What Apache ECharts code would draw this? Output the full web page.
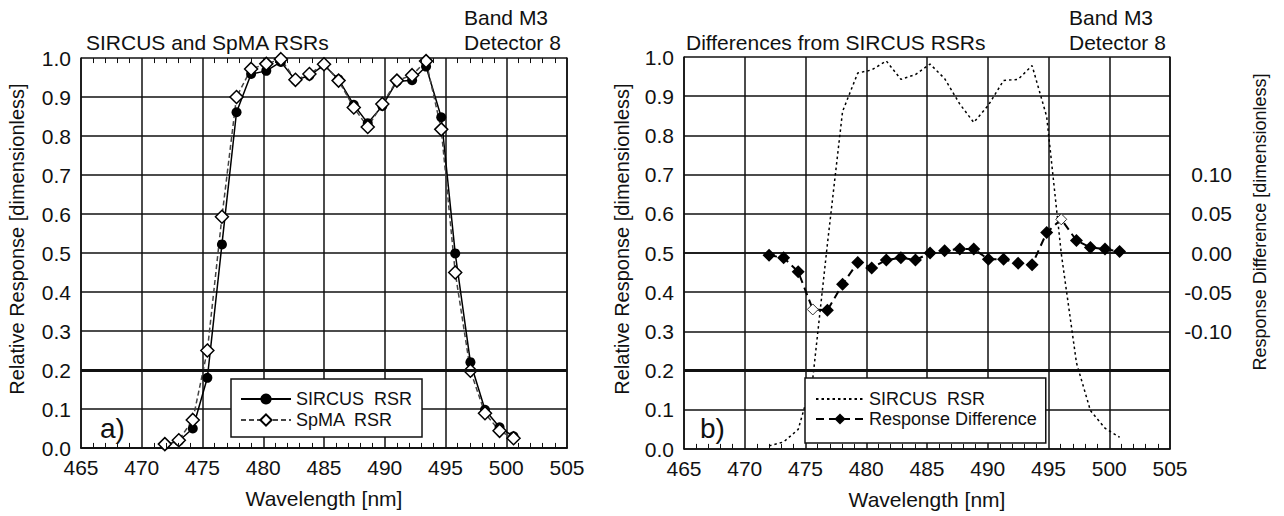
<!DOCTYPE html>
<html>
<head>
<meta charset="utf-8">
<script src="https://cdn.jsdelivr.net/npm/echarts@6/dist/echarts.min.js"></script>
<style>
    html, body { margin: 0; padding: 0; background: #fff; }
    #chart { width: 1284px; height: 516px; }
</style>
</head>
<body>
<div id="chart"></div>
<script>
// wavelength of the measured points, panel a) [nm]
const wavelengthA = [471.9, 473.05, 474.2, 475.4, 476.6, 477.8, 479.0, 480.25, 481.45, 482.65, 483.8, 485.0, 486.2,
    487.45, 488.6, 489.8, 491.0, 492.25, 493.4, 494.65, 495.8, 497.05, 498.25, 499.45, 500.6];
// same points as plotted in panel b) (sit a little to the right)
const wavelengthB = [472.0, 473.2, 474.4, 475.6, 476.8, 478.05, 479.3, 480.45, 481.65, 482.85, 484.05, 485.25, 486.45,
    487.7, 488.85, 490.05, 491.3, 492.5, 493.65, 494.85, 496.05, 497.3, 498.45, 499.65, 500.85];
const sircusRsr = [0.008, 0.018, 0.05, 0.18, 0.522, 0.861, 0.959, 0.967, 0.99, 0.943, 0.955, 0.982, 0.945,
    0.88, 0.833, 0.877, 0.94, 0.943, 0.978, 0.848, 0.499, 0.22, 0.098, 0.053, 0.03];
const spmaRsr = [0.01, 0.02, 0.072, 0.25, 0.593, 0.90, 0.972, 0.985, 0.997, 0.944, 0.959, 0.984, 0.942,
    0.873, 0.823, 0.882, 0.942, 0.956, 0.992, 0.817, 0.45, 0.198, 0.089, 0.044, 0.025];
const responseDiff = [-0.003, -0.006, -0.024, -0.072, -0.073, -0.040, -0.012, -0.019, -0.009, -0.006, -0.009, 0.0, 0.003,
    0.005, 0.005, -0.008, -0.008, -0.013, -0.015, 0.026, 0.043, 0.016, 0.007, 0.005, 0.002];
const hollowDiff = [3, 20]; // drawn as open diamonds
const xTicks = { min: 465, max: 505, step: 5, minor: 1 };
const yTicks = { min: 0, max: 1, step: 0.1 };
const diffTicks = { min: -0.25, max: 0.25, step: 0.05, shown: 0.1 };

const FONT = 'Liberation Sans, Arial, sans-serif';
const INK = '#111';
const TICK_LEN = 0.013; // small tick length in y units (about 5 px)

const pairs = (xs, ys) => xs.map((x, i) => [x, ys[i]]);

// 1 nm positions of the small ticks along the frame
const minorTickNm = [];
for (let v = xTicks.min + xTicks.minor; v < xTicks.max; v += xTicks.minor) {
    if (v % xTicks.step !== 0) minorTickNm.push(v);
}

// tick segments pointing into the plot from y = edge
const tickSegs = (edge, dir) => minorTickNm.map(v => [
    { coord: [v, edge], lineStyle: { width: 1, color: INK, type: 'solid' } },
    { coord: [v, edge + dir * TICK_LEN] },
]);

function bottomX(gridIndex) {
    return {
        gridIndex,
        type: 'value',
        position: 'bottom',
        min: xTicks.min,
        max: xTicks.max,
        interval: xTicks.step,
        axisLine: { lineStyle: { color: INK, width: 1.5 } },
        axisTick: { show: false },
        axisLabel: { color: INK, fontSize: 21, fontFamily: FONT, margin: 9 },
        splitLine: { show: true, lineStyle: { color: INK, width: 1.5 } },
        name: 'Wavelength [nm]',
        nameLocation: 'middle',
        nameGap: 40,
        nameTextStyle: { color: INK, fontSize: 21, fontFamily: FONT },
    };
}

function topX(gridIndex) {
    return {
        gridIndex,
        type: 'value',
        position: 'top',
        min: xTicks.min,
        max: xTicks.max,
        interval: xTicks.step,
        axisLine: { lineStyle: { color: INK, width: 1.5 } },
        axisTick: { show: false },
        axisLabel: { show: false },
        splitLine: { show: false },
    };
}

function leftY(gridIndex) {
    return {
        gridIndex,
        type: 'value',
        position: 'left',
        min: yTicks.min,
        max: yTicks.max,
        interval: yTicks.step,
        axisLine: { show: true, lineStyle: { color: INK, width: 1.5 } },
        axisTick: { show: false },
        axisLabel: { color: INK, fontSize: 21, fontFamily: FONT, margin: 10, formatter: v => v.toFixed(1) },
        splitLine: { show: true, lineStyle: { color: INK, width: 1.5 } },
    };
}

const markLineBase = {
    silent: true,
    symbol: 'none',
    label: { show: false },
    lineStyle: { color: INK, width: 3, type: 'solid' },
};

const textEl = (text, x, y, size, rotated) => ({
    type: 'text',
    x,
    y,
    rotation: rotated ? Math.PI / 2 : 0,
    style: {
        text,
        fill: INK,
        font: size + 'px ' + FONT,
        textAlign: rotated ? 'center' : 'left',
        textVerticalAlign: 'middle',
    },
});

const chart = echarts.init(document.getElementById('chart'), null, { renderer: 'svg' });

const option = {
    animation: false,
    backgroundColor: '#fff',
    textStyle: { fontFamily: FONT, color: INK },
    grid: [
        { left: 81, top: 58, width: 486, height: 390 },
        { left: 684, top: 57, width: 486, height: 392 },
    ],
    xAxis: [bottomX(0), topX(0), bottomX(1), topX(1)],
    yAxis: [
        leftY(0),
        {
            gridIndex: 0, type: 'value', position: 'right', min: 0, max: 1,
            axisLine: { show: true, lineStyle: { color: INK, width: 1.5 } },
            axisTick: { show: false }, axisLabel: { show: false }, splitLine: { show: false },
        },
        leftY(1),
        {
            gridIndex: 1,
            type: 'value',
            position: 'right',
            min: diffTicks.min,
            max: diffTicks.max,
            interval: diffTicks.step,
            axisLine: { show: true, lineStyle: { color: INK, width: 1.5 } },
            axisTick: { show: false },
            splitLine: { show: false },
            axisLabel: {
                color: INK, fontSize: 21, fontFamily: FONT, margin: 62, align: 'right',
                formatter: v => (Math.abs(v) <= diffTicks.shown + 1e-6 ? v.toFixed(2) : ''),
            },
        },
    ],
    legend: [
        {
            data: ['SIRCUS  RSR', 'SpMA  RSR'],
            orient: 'vertical',
            left: 231,
            top: 379,
            padding: [11, 10, 8, 9],
            itemWidth: 50,
            itemHeight: 14,
            itemGap: 3,
            backgroundColor: '#fff',
            borderColor: INK,
            borderWidth: 1.5,
            selectedMode: false,
            textStyle: { color: INK, fontSize: 18, fontFamily: FONT, lineHeight: 18 },
        },
        {
            // dotted line only, no marker for the SIRCUS curve
            data: [{ name: 'SIRCUS RSR b', itemStyle: { opacity: 0 } }, 'Response Difference'],
            formatter: name => (name === 'SIRCUS RSR b' ? 'SIRCUS  RSR' : name),
            orient: 'vertical',
            left: 805,
            top: 378,
            padding: [12, 9, 15, 10],
            itemWidth: 48,
            itemHeight: 14,
            itemGap: 2,
            backgroundColor: '#fff',
            borderColor: INK,
            borderWidth: 1.5,
            selectedMode: false,
            textStyle: { color: INK, fontSize: 18, fontFamily: FONT, lineHeight: 18 },
        },
    ],
    series: [
        {
            name: 'SIRCUS  RSR',
            type: 'line',
            xAxisIndex: 0,
            yAxisIndex: 0,
            data: pairs(wavelengthA, sircusRsr),
            symbol: 'circle',
            symbolSize: 10,
            itemStyle: { color: '#000' },
            lineStyle: { color: '#000', width: 1.5 },
            markLine: Object.assign({}, markLineBase, { data: [{ yAxis: 0.2 }] }),
        },
        {
            name: 'SpMA  RSR',
            type: 'line',
            xAxisIndex: 0,
            yAxisIndex: 0,
            data: pairs(wavelengthA, spmaRsr),
            symbol: 'diamond',
            symbolSize: 13,
            itemStyle: { color: '#fff', borderColor: '#000', borderWidth: 1.5 },
            lineStyle: { color: '#444', width: 1.5, type: [5, 3] },
            markLine: Object.assign({}, markLineBase, {
                lineStyle: { color: INK, width: 1, type: 'solid' },
                data: tickSegs(yTicks.min, 1).concat(tickSegs(yTicks.max, -1)),
            }),
        },
        {
            name: 'SIRCUS RSR b',
            type: 'line',
            xAxisIndex: 2,
            yAxisIndex: 2,
            data: pairs(wavelengthB, sircusRsr),
            symbol: 'none',
            itemStyle: { color: '#000' },
            lineStyle: { color: '#000', width: 1.5, type: [2.5, 3] },
            markLine: Object.assign({}, markLineBase, {
                data: [{ yAxis: 0.2 }].concat(tickSegs(yTicks.min, 1)),
            }),
        },
        {
            name: 'Response Difference',
            type: 'line',
            xAxisIndex: 2,
            yAxisIndex: 3,
            data: wavelengthB.map((x, i) => (hollowDiff.includes(i)
                ? { value: [x, responseDiff[i]], symbolSize: 11, itemStyle: { color: '#fff', borderColor: '#333', borderWidth: 1 } }
                : [x, responseDiff[i]])),
            symbol: 'diamond',
            symbolSize: 13,
            itemStyle: { color: '#000' },
            lineStyle: { color: '#000', width: 2, type: [8, 5] },
        },
    ],
    graphic: [
        textEl('SIRCUS and SpMA RSRs', 86, 42, 21),
        textEl('Band M3', 464, 17, 21),
        textEl('Detector 8', 464, 42, 21),
        textEl('Differences from SIRCUS RSRs', 686, 42, 21),
        textEl('Band M3', 1069, 17, 21),
        textEl('Detector 8', 1069, 42, 21),
        textEl('a)', 100, 428, 28),
        textEl('b)', 700, 428, 28),
        textEl('Relative Response [dimensionless]', 17, 239, 20, true),
        textEl('Relative Response [dimensionless]', 622, 239, 20, true),
        textEl('Response Difference [dimensionless]', 1260, 222, 18, true),
    ],
};

chart.setOption(option);
</script>
</body>
</html>
